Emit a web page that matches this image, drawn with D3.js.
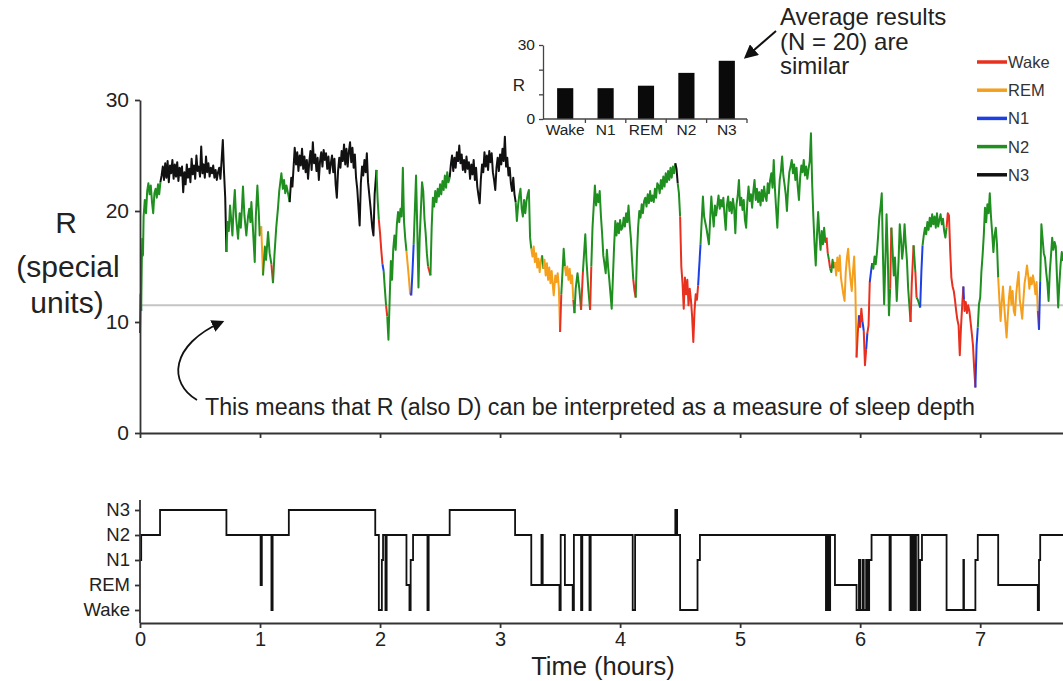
<!DOCTYPE html>
<html>
<head>
<meta charset="utf-8">
<script src="https://cdn.jsdelivr.net/npm/d3@7"></script>
<style>
  body { margin: 0; background: #fff; }
  svg { font-family: Arial, "Liberation Sans", sans-serif; }
</style>
</head>
<body>
<svg id="grafico" width="1063" height="681"></svg>
<script>
// estágios do hipnograma: [hora de início, estágio]
let hipnograma = [
  [0,'N1'],[0.01,'N2'],[0.167,'N3'],[0.72,'N2'],[1.005,'REM'],[1.015,'N2'],[1.095,'Wake'],[1.105,'N2'],
  [1.24,'N3'],[1.96,'N2'],[1.99,'Wake'],[2.015,'N1'],[2.025,'N2'],[2.045,'Wake'],[2.055,'N2'],[2.22,'REM'],
  [2.245,'Wake'],[2.255,'N1'],[2.275,'N2'],[2.395,'Wake'],[2.405,'N2'],[2.58,'N3'],[3.125,'N2'],[3.26,'REM'],
  [3.345,'N2'],[3.355,'REM'],[3.495,'Wake'],[3.505,'N2'],[3.54,'REM'],[3.605,'Wake'],[3.615,'N2'],[3.675,'Wake'],
  [3.685,'N2'],[3.745,'Wake'],[3.755,'N2'],[4.105,'Wake'],[4.125,'N2'],[4.46,'N3'],[4.475,'N2'],[4.5,'Wake'],
  [4.645,'N1'],[4.665,'N2'],[5.715,'Wake'],[5.73,'N2'],[5.74,'Wake'],[5.75,'N2'],[5.79,'REM'],[5.97,'Wake'],
  [5.99,'N1'],[6.0,'Wake'],[6.02,'N1'],[6.03,'Wake'],[6.05,'N1'],[6.06,'Wake'],[6.075,'N1'],[6.095,'N2'],
  [6.245,'Wake'],[6.255,'N2'],[6.42,'Wake'],[6.435,'N2'],[6.45,'Wake'],[6.465,'N2'],[6.485,'Wake'],[6.5,'N1'],
  [6.515,'N2'],[6.72,'Wake'],[6.86,'N1'],[6.865,'Wake'],[6.96,'N1'],[6.98,'N2'],[7.15,'REM'],[7.48,'Wake'],
  [7.49,'N1'],[7.5,'N2']
];
let fimHipnograma = 7.7;

// série R: [hora, valor]
let serieR = [
  [0,9.0],[0.005,12.5],[0.01,11.0],[0.015,15.5],[0.02,17.5],[0.025,16.0],[0.03,19.5],[0.04,21.0],[0.05,19.8],[0.06,21.8],
  [0.07,22.5],[0.08,21.5],[0.09,22.3],[0.1,20.8],[0.11,19.8],[0.12,21.6],[0.13,22.0],[0.14,21.2],[0.15,22.4],[0.16,21.5],[0.17,22.6],
  [0.18,23.2],[0.19,24.0],[0.2,22.8],[0.21,24.3],[0.22,23.0],[0.23,24.5],[0.24,22.6],[0.25,24.1],[0.26,23.4],[0.27,24.6],
  [0.28,22.9],[0.29,24.2],[0.3,23.1],[0.31,24.4],[0.32,22.7],[0.33,23.9],[0.34,23.2],[0.35,24.0],[0.36,21.7],[0.37,23.5],
  [0.38,22.4],[0.39,24.2],[0.4,23.0],[0.41,23.8],[0.42,22.6],[0.43,24.7],[0.44,23.3],[0.45,24.1],[0.46,22.9],[0.47,25.0],
  [0.48,23.6],[0.49,24.0],[0.5,23.1],[0.51,25.8],[0.52,23.4],[0.53,24.2],[0.54,23.0],[0.55,24.9],[0.56,23.5],[0.57,24.3],
  [0.58,23.1],[0.59,23.9],[0.6,23.4],[0.61,24.1],[0.62,23.0],[0.63,23.7],[0.64,22.8],[0.65,23.5],[0.66,23.9],[0.67,22.9],
  [0.68,24.6],[0.69,26.4],[0.7,23.5],[0.71,21.2],
  [0.72,16.3],[0.73,19.0],[0.74,18.2],[0.75,20.5],[0.76,19.2],[0.77,17.8],[0.78,20.3],[0.79,21.9],[0.8,19.5],[0.81,18.3],
  [0.817,17.5],[0.83,19.8],[0.84,18.5],[0.85,20.4],[0.858,22.2],[0.87,19.6],[0.886,17.8],[0.9,19.5],[0.91,20.2],[0.92,19.0],
  [0.928,20.8],[0.94,18.6],[0.956,15.4],[0.965,19.5],[0.978,22.3],[0.99,19.8],[0.997,17.8],[1.01,18.6],[1.025,14.2],[1.04,16.8],
  [1.05,15.6],[1.067,18.1],[1.08,16.2],[1.095,15.2],[1.108,13.5],[1.12,16.0],[1.135,18.5],[1.15,20.3],[1.16,21.8],[1.178,23.4],
  [1.19,22.0],[1.2,22.8],[1.21,21.6],[1.22,22.3],[1.235,21.5],
  [1.247,20.8],[1.26,23.0],[1.27,22.2],[1.289,25.7],[1.3,24.2],[1.31,25.3],[1.32,23.6],[1.33,25.0],[1.34,24.1],[1.35,25.6],
  [1.36,23.8],[1.37,24.9],[1.38,23.5],[1.39,24.6],[1.4,22.9],[1.41,24.4],[1.42,25.4],[1.43,23.7],[1.44,26.2],[1.45,24.3],
  [1.46,25.1],[1.47,23.6],[1.48,24.8],[1.49,22.8],[1.5,24.5],[1.51,25.3],[1.52,24.0],[1.53,25.5],[1.54,24.6],[1.55,25.2],
  [1.56,23.8],[1.57,24.9],[1.58,23.4],[1.59,24.3],[1.6,25.0],[1.61,23.5],[1.62,24.7],[1.63,22.4],[1.64,21.2],[1.65,23.6],
  [1.66,24.8],[1.67,23.9],[1.68,25.4],[1.69,24.5],[1.7,26.0],[1.71,24.2],[1.72,25.6],[1.73,24.0],[1.74,25.3],[1.75,26.2],
  [1.76,24.4],[1.77,25.7],[1.78,23.9],[1.79,25.1],[1.8,23.0],[1.81,22.0],[1.83,18.7],[1.84,22.5],[1.85,24.0],[1.86,23.2],
  [1.87,24.6],[1.88,23.5],[1.89,25.2],[1.9,22.6],[1.91,21.5],[1.92,20.4],[1.935,18.5],[1.945,17.8],[1.955,21.5],
  [1.97,23.7],[1.98,21.0],[1.99,19.2],[2.0,18.0],[2.01,16.5],[2.02,15.2],[2.03,14.6],[2.04,13.0],[2.05,11.5],[2.06,10.5],
  [2.07,8.4],[2.08,12.0],[2.09,15.5],[2.1,13.8],[2.11,16.6],[2.12,17.8],[2.13,16.5],[2.14,18.8],[2.15,19.9],[2.16,19.0],
  [2.17,20.2],[2.18,19.5],[2.19,23.9],[2.2,19.0],[2.21,17.5],[2.22,16.4],[2.23,15.2],[2.24,14.0],[2.25,12.6],[2.26,12.4],
  [2.27,14.5],[2.28,17.0],[2.3,23.2],[2.31,18.5],[2.32,13.1],[2.33,17.5],[2.35,22.6],[2.36,21.8],[2.37,19.3],[2.38,18.0],
  [2.39,16.2],[2.4,15.0],[2.42,14.2],[2.43,18.5],[2.44,21.2],[2.45,20.4],[2.46,21.8],[2.47,20.8],[2.48,22.0],[2.49,21.3],
  [2.5,22.4],[2.51,21.5],[2.52,22.7],[2.53,21.9],[2.54,23.2],[2.55,22.1],[2.56,23.5],[2.57,22.6],
  [2.58,23.0],[2.59,24.2],[2.6,25.0],[2.61,23.6],[2.62,24.8],[2.63,23.9],[2.64,25.3],[2.65,24.5],[2.66,25.9],[2.67,24.3],
  [2.68,25.1],[2.69,23.7],[2.7,24.6],[2.71,23.5],[2.72,24.9],[2.73,23.8],[2.74,24.4],[2.75,22.9],[2.76,24.2],[2.77,23.3],
  [2.78,24.6],[2.79,22.8],[2.8,23.9],[2.81,22.2],[2.82,21.4],[2.83,20.7],[2.84,22.9],[2.85,24.2],[2.86,23.5],[2.87,25.3],
  [2.88,24.0],[2.89,25.0],[2.9,23.7],[2.91,25.4],[2.92,24.4],[2.93,25.2],[2.94,23.5],[2.95,22.8],[2.96,21.9],[2.97,23.9],
  [2.98,24.8],[2.99,23.6],[3.0,25.1],[3.01,24.2],[3.02,25.6],[3.03,24.5],[3.04,26.7],[3.05,24.0],[3.06,24.8],[3.07,23.2],
  [3.08,23.9],[3.09,22.5],[3.1,21.8],[3.11,23.0],[3.12,21.5],
  [3.13,20.8],[3.14,19.1],[3.15,20.5],[3.16,21.4],[3.17,22.0],[3.18,20.2],[3.19,19.5],[3.2,21.0],[3.21,19.8],[3.22,20.9],
  [3.23,21.5],[3.24,21.9],[3.25,17.6],
  [3.26,16.6],[3.27,15.9],[3.28,16.8],[3.29,15.4],[3.3,16.2],[3.31,14.9],[3.32,15.7],[3.33,14.5],[3.34,15.5],[3.35,16.0],
  [3.36,14.8],[3.37,15.6],[3.38,14.2],[3.39,15.3],[3.4,13.8],[3.41,14.9],[3.42,13.5],[3.43,14.6],[3.44,13.2],[3.447,12.4],
  [3.46,14.2],[3.47,13.6],[3.48,14.4],[3.49,13.0],[3.5,9.1],[3.51,12.5],[3.52,14.5],[3.53,16.6],[3.54,15.0],[3.55,14.2],
  [3.56,15.0],[3.57,13.8],[3.58,14.8],[3.59,13.5],[3.6,14.2],[3.61,12.0],[3.62,10.8],[3.63,13.0],[3.645,14.4],[3.66,13.0],
  [3.675,11.1],[3.69,14.5],[3.71,17.9],[3.72,15.5],[3.735,13.0],[3.75,11.1],[3.76,15.0],[3.77,18.5],[3.79,22.3],[3.8,20.5],
  [3.81,21.5],[3.82,20.8],[3.83,21.8],[3.84,19.6],[3.85,18.0],[3.86,16.0],[3.88,14.4],[3.89,16.5],[3.9,15.0],[3.91,13.8],
  [3.93,11.2],[3.94,14.0],[3.95,16.8],[3.96,19.1],[3.97,17.8],[3.98,18.9],[3.99,18.0],[4.0,19.2],[4.01,18.3],[4.02,18.5],
  [4.03,19.4],[4.04,18.6],[4.05,19.8],[4.06,19.0],[4.07,20.5],[4.08,18.8],[4.09,17.5],[4.1,15.5],[4.11,13.8],[4.12,12.8],
  [4.13,12.2],[4.14,16.0],[4.15,18.5],[4.16,20.0],[4.17,19.4],[4.18,20.6],[4.19,19.8],[4.2,20.9],[4.21,21.2],[4.22,20.4],
  [4.23,21.5],[4.24,20.7],[4.25,21.8],[4.26,20.9],[4.27,21.4],[4.28,20.8],[4.29,22.0],[4.3,21.2],[4.31,22.5],[4.32,22.3],
  [4.33,21.6],[4.34,22.8],[4.35,22.0],[4.36,23.1],[4.37,22.2],[4.38,23.4],[4.39,22.6],[4.4,23.6],[4.41,22.8],[4.42,23.9],
  [4.43,23.0],[4.44,24.0],[4.45,23.4],[4.46,24.3],[4.47,23.8],[4.48,22.5],[4.49,21.6],
  [4.5,19.5],[4.51,15.0],[4.52,13.5],[4.53,11.2],[4.54,14.0],[4.55,12.5],[4.56,13.8],[4.57,11.5],[4.58,13.0],[4.59,12.0],
  [4.6,10.5],[4.61,8.2],[4.62,11.0],[4.63,12.5],[4.64,12.0],[4.65,13.3],
  [4.67,17.0],[4.69,21.3],[4.7,19.5],[4.72,18.4],[4.74,17.0],[4.75,19.2],[4.76,21.3],[4.77,19.8],[4.78,18.6],[4.79,20.5],
  [4.8,19.6],[4.82,21.4],[4.83,20.2],[4.84,21.0],[4.85,20.4],[4.86,21.2],[4.87,19.6],[4.88,18.3],[4.89,20.5],[4.9,21.3],
  [4.91,20.0],[4.92,20.8],[4.93,19.8],[4.94,21.1],[4.95,20.3],[4.96,18.0],[4.97,20.6],[4.98,21.4],[4.99,22.8],[5.0,20.5],
  [5.01,21.2],[5.02,20.1],[5.03,21.0],[5.04,19.2],[5.05,18.5],[5.06,20.8],[5.07,22.2],[5.08,20.9],[5.09,21.5],[5.1,20.3],
  [5.11,21.8],[5.12,22.8],[5.13,21.0],[5.14,22.0],[5.15,20.8],[5.16,21.7],[5.17,20.5],[5.18,21.9],[5.19,20.9],[5.2,22.2],
  [5.21,21.3],[5.22,20.9],[5.23,22.5],[5.24,21.6],[5.25,22.8],[5.26,23.4],[5.27,22.1],[5.28,24.6],[5.29,22.0],[5.3,20.2],
  [5.31,18.5],[5.32,21.0],[5.33,22.8],[5.34,23.6],[5.35,24.9],[5.36,23.2],[5.37,22.4],[5.38,21.5],[5.39,20.0],[5.4,22.1],
  [5.41,23.5],[5.42,24.0],[5.43,24.6],[5.44,23.4],[5.45,24.2],[5.46,22.8],[5.47,23.9],[5.48,22.2],[5.49,21.0],[5.5,23.0],
  [5.51,24.1],[5.52,23.5],[5.53,24.6],[5.54,23.2],[5.55,24.0],[5.56,22.9],[5.57,23.8],[5.58,24.5],[5.59,27.0],[5.6,22.5],
  [5.61,19.5],[5.62,17.0],[5.63,15.1],[5.64,17.8],[5.65,19.9],[5.66,18.0],[5.67,16.5],[5.68,18.2],[5.69,17.0],[5.7,18.5],
  [5.71,17.2],[5.72,17.6],[5.73,16.2],[5.74,15.6],[5.75,14.8],[5.76,14.5],[5.77,15.6],[5.78,14.9],
  [5.79,15.4],[5.8,14.2],[5.81,15.8],[5.82,14.6],[5.83,16.0],[5.84,14.0],[5.85,13.2],[5.86,12.5],[5.87,11.9],[5.88,14.5],
  [5.89,15.8],[5.9,16.6],[5.91,15.0],[5.92,13.8],[5.93,12.8],[5.94,14.5],[5.95,15.9],[5.96,13.0],
  [5.97,6.8],[5.98,9.0],[5.99,10.6],[6.0,9.5],[6.01,11.2],[6.02,10.0],[6.03,9.2],[6.04,6.1],[6.05,7.5],[6.06,9.0],
  [6.07,9.7],[6.08,13.6],[6.09,14.5],[6.1,15.3],[6.11,14.8],[6.12,15.9],[6.13,15.2],[6.14,16.3],[6.15,17.8],[6.16,19.5],
  [6.17,20.4],[6.18,21.6],[6.19,16.0],[6.2,11.6],[6.21,15.5],[6.22,19.7],[6.23,16.0],[6.24,10.6],[6.25,13.0],[6.26,18.5],
  [6.27,16.5],[6.28,14.2],[6.29,15.8],[6.305,11.9],[6.32,15.5],[6.33,18.8],[6.34,17.5],[6.35,15.7],[6.36,16.8],[6.37,18.8],
  [6.38,17.0],[6.39,15.5],[6.4,13.0],[6.42,10.0],[6.43,13.5],[6.445,16.9],[6.46,14.5],[6.47,12.2],[6.48,12.0],[6.5,11.3],
  [6.51,14.5],[6.52,16.9],[6.53,17.8],[6.54,18.5],[6.55,17.9],[6.56,19.0],[6.57,18.3],[6.58,19.4],[6.59,18.6],[6.6,19.7],
  [6.61,18.8],[6.62,19.5],[6.63,18.5],[6.64,19.8],[6.65,18.6],[6.66,19.2],[6.67,19.7],[6.68,18.8],[6.69,19.3],[6.7,18.2],
  [6.71,17.6],
  [6.72,18.5],[6.73,19.8],[6.74,19.6],[6.75,16.5],[6.76,14.0],[6.77,13.2],[6.78,12.8],[6.79,12.0],[6.8,11.0],[6.81,10.2],
  [6.82,9.7],[6.83,7.0],[6.84,9.5],[6.85,11.5],[6.86,13.2],[6.865,12.0],[6.87,11.0],[6.88,11.8],[6.89,10.8],[6.9,11.5],
  [6.91,11.0],[6.92,10.0],[6.93,9.0],[6.94,7.9],[6.95,5.8],[6.96,4.1],[6.97,7.9],[6.98,9.5],[6.99,11.6],[7.0,12.2],
  [7.01,14.5],[7.02,16.0],[7.03,17.8],[7.04,20.3],[7.05,19.0],[7.06,20.6],[7.07,19.8],[7.08,21.6],[7.09,19.5],[7.1,18.0],
  [7.11,16.3],[7.12,17.8],[7.13,18.5],[7.14,17.0],
  [7.15,14.0],[7.16,12.0],[7.17,10.1],[7.18,11.8],[7.19,13.2],[7.2,11.5],[7.21,10.0],[7.22,8.6],[7.23,10.5],[7.24,12.2],
  [7.25,13.2],[7.26,11.6],[7.27,12.8],[7.28,11.0],[7.29,10.6],[7.3,12.5],[7.31,13.6],[7.32,14.5],[7.33,12.0],[7.34,11.2],
  [7.35,10.3],[7.36,12.0],[7.37,13.5],[7.38,14.2],[7.39,15.1],[7.4,14.2],[7.41,13.0],[7.42,14.0],[7.43,13.4],[7.44,14.2],
  [7.45,13.5],[7.46,12.5],[7.47,13.6],[7.48,11.0],[7.49,9.3],[7.5,13.6],
  [7.51,18.8],[7.52,17.5],[7.53,16.2],[7.54,15.8],[7.55,14.5],[7.56,13.5],[7.57,11.9],[7.58,14.5],[7.59,16.0],[7.6,17.6],
  [7.61,16.5],[7.62,17.2],[7.63,16.8],[7.64,14.0],[7.65,11.3],[7.66,13.5],[7.67,15.2],[7.68,16.3],[7.69,15.5]
];

let limiarR = 11.5;
let ticksR = [0, 10, 20, 30];
let ticksHoras = [0, 1, 2, 3, 4, 5, 6, 7];
let estagiosEixo = ['Wake', 'REM', 'N1', 'N2', 'N3'];
let estagiosLegenda = ['Wake', 'REM', 'N1', 'N2', 'N3'];
let coresEstagio = { Wake: '#e8301f', REM: '#f5a01c', N1: '#1c3fe6', N2: '#1f8f1f', N3: '#111111' };

// gráfico pequeno de médias
let categoriasMedia = ['Wake', 'N1', 'REM', 'N2', 'N3'];
let valoresMedia = [12.5, 12.5, 13.5, 18.7, 23.6];
let ticksMedia = [0, 10, 20, 30];
let rotulosTicksMedia = [0, 30];

let svg = d3.select('#grafico');
let corTexto = '#222';
let fonte = 'Arial, "Liberation Sans", sans-serif';

let fnx = d3.scaleLinear().domain([0, 7.69]).range([140, 1063]);
let fny = d3.scaleLinear().domain([0, 30]).range([433, 100]);
let fnh = d3.scalePoint().domain(estagiosEixo).range([610, 510]);

// limiar cinza
svg.append('line')
  .attr('x1', fnx(0)).attr('x2', fnx(7.69))
  .attr('y1', fny(limiarR)).attr('y2', fny(limiarR))
  .attr('stroke', '#c4c4c4').attr('stroke-width', 2);

// estágio em cada hora
let horasHip = hipnograma.map(d => d[0]);
function estagioEm(t) {
  let i = d3.bisectRight(horasHip, t + 1e-9) - 1;
  return hipnograma[Math.max(0, i)][1];
}

// quebra a série em trechos de mesma cor
let trechos = [];
for (let i = 0; i < serieR.length - 1; i++) {
  let est = estagioEm(serieR[i][0]);
  let ultimo = trechos[trechos.length - 1];
  if (!ultimo || ultimo.est !== est) {
    trechos.push({ est: est, pts: [serieR[i], serieR[i + 1]] });
  } else {
    ultimo.pts.push(serieR[i + 1]);
  }
}

let linhaR = d3.line().x(d => fnx(d[0])).y(d => fny(d[1]));
svg.append('g').selectAll('path')
  .data(trechos)
  .join('path')
  .attr('d', d => linhaR(d.pts))
  .attr('fill', 'none')
  .attr('stroke', d => coresEstagio[d.est])
  .attr('stroke-width', 2)
  .attr('stroke-linejoin', 'round');

// eixos do painel superior
let eixoY = svg.append('g').attr('transform', 'translate(140,0)')
  .call(d3.axisLeft(fny).tickValues(ticksR).tickSize(5).tickPadding(6).tickSizeOuter(0));
let eixoX = svg.append('g').attr('transform', 'translate(0,433)')
  .call(d3.axisBottom(fnx).tickValues(ticksHoras).tickSize(5).tickFormat('').tickSizeOuter(0));
[eixoY, eixoX].forEach(g => {
  g.selectAll('path, line').attr('stroke', '#333').attr('stroke-width', 1.8);
  g.selectAll('text').attr('font-size', 21).attr('fill', corTexto).attr('font-family', fonte);
});

// rótulo do eixo Y
svg.append('text').attr('x', 66).attr('y', 233).attr('text-anchor', 'middle')
  .attr('font-size', 30).attr('fill', corTexto).text('R');
svg.append('text').attr('x', 68).attr('y', 277).attr('text-anchor', 'middle')
  .attr('font-size', 30).attr('fill', corTexto).text('(special');
svg.append('text').attr('x', 67).attr('y', 313).attr('text-anchor', 'middle')
  .attr('font-size', 30).attr('fill', corTexto).text('units)');

// setas
let defs = svg.append('defs');
defs.append('marker').attr('id', 'ponta')
  .attr('viewBox', '0 0 10 10').attr('refX', 8).attr('refY', 5)
  .attr('markerWidth', 7).attr('markerHeight', 7).attr('markerUnits', 'strokeWidth')
  .attr('orient', 'auto')
  .append('path').attr('d', 'M0,0 L10,5 L0,10 Z').attr('fill', '#111');

svg.append('path')
  .attr('d', 'M197,400 C168,383 170,345 222,322')
  .attr('fill', 'none').attr('stroke', '#111').attr('stroke-width', 1.8)
  .attr('marker-end', 'url(#ponta)');

svg.append('text').attr('x', 205).attr('y', 415)
  .attr('font-size', 23).attr('fill', corTexto)
  .attr('textLength', 770).attr('lengthAdjust', 'spacingAndGlyphs')
  .text('This means that R (also D) can be interpreted as a measure of sleep depth');

// gráfico de médias
let fnxm = d3.scaleBand().domain(categoriasMedia).range([545, 747]).paddingInner(0.6).paddingOuter(0.3);
let fnym = d3.scaleLinear().domain([0, 30]).range([119, 45]);

svg.append('g').selectAll('.barra')
  .data(valoresMedia)
  .join('rect')
  .attr('class', 'barra')
  .attr('x', (d, i) => fnxm(categoriasMedia[i]))
  .attr('y', d => fnym(d))
  .attr('width', fnxm.bandwidth())
  .attr('height', d => fnym(0) - fnym(d))
  .attr('fill', '#0a0a0a');

let eixoYm = svg.append('g').attr('transform', 'translate(543,0)')
  .call(d3.axisLeft(fnym).tickValues(ticksMedia).tickSize(4).tickPadding(4).tickSizeOuter(0)
    .tickFormat(d => rotulosTicksMedia.includes(d) ? d : ''));
let eixoXm = svg.append('g').attr('transform', 'translate(0,119)')
  .call(d3.axisBottom(fnxm).tickSize(0).tickPadding(5).tickSizeOuter(0));
eixoXm.select('.domain').attr('d', 'M543,0H747');
eixoXm.selectAll('.divisa')
  .data(categoriasMedia)
  .join('line')
  .attr('class', 'divisa')
  .attr('x1', d => fnxm(d) + fnxm.bandwidth() + fnxm.step() * fnxm.paddingInner() / 2)
  .attr('x2', d => fnxm(d) + fnxm.bandwidth() + fnxm.step() * fnxm.paddingInner() / 2)
  .attr('y1', 0).attr('y2', 4);
[eixoYm, eixoXm].forEach(g => {
  g.selectAll('path, line').attr('stroke', '#444').attr('stroke-width', 1.3);
  g.selectAll('text').attr('font-size', 15.5).attr('fill', corTexto).attr('font-family', fonte);
});
svg.append('text').attr('x', 519).attr('y', 91).attr('text-anchor', 'middle')
  .attr('font-size', 17).attr('fill', corTexto).text('R');

// anotação do gráfico de médias
svg.append('line').attr('x1', 776).attr('y1', 31).attr('x2', 746).attr('y2', 57)
  .attr('stroke', '#111').attr('stroke-width', 2).attr('marker-end', 'url(#ponta)');
['Average results', '(N = 20) are', 'similar'].forEach((t, i) => {
  svg.append('text').attr('x', 780).attr('y', 25 + i * 24.5)
    .attr('font-size', 24).attr('fill', corTexto).text(t);
});

// legenda
let legenda = svg.append('g').selectAll('g')
  .data(estagiosLegenda)
  .join('g')
  .attr('transform', (d, i) => `translate(977, ${62 + i * 28.2})`);
legenda.append('line').attr('x1', 0).attr('x2', 30).attr('y1', 0).attr('y2', 0)
  .attr('stroke', d => coresEstagio[d]).attr('stroke-width', 3.5);
legenda.append('text').attr('x', 31).attr('y', 6)
  .attr('font-size', 16.5).attr('fill', '#333').text(d => d);

// hipnograma
let pontosHip = hipnograma.concat([[fimHipnograma, hipnograma[hipnograma.length - 1][1]]]);
let linhaHip = d3.line().curve(d3.curveStepAfter).x(d => fnx(d[0])).y(d => fnh(d[1]));
svg.append('path')
  .attr('d', linhaHip(pontosHip))
  .attr('fill', 'none').attr('stroke', '#111').attr('stroke-width', 1.8);

let eixoYh = svg.append('g').attr('transform', 'translate(140,0)')
  .call(d3.axisLeft(fnh).tickSize(5).tickPadding(5).tickSizeOuter(0));
eixoYh.select('.domain').attr('d', 'M0,500V623');
let eixoXh = svg.append('g').attr('transform', 'translate(0,623)')
  .call(d3.axisBottom(fnx).tickValues(ticksHoras).tickSize(5).tickPadding(4).tickSizeOuter(0));
[eixoYh, eixoXh].forEach(g => {
  g.selectAll('path, line').attr('stroke', '#333').attr('stroke-width', 1.8);
  g.selectAll('text').attr('fill', corTexto).attr('font-family', fonte);
});
eixoYh.selectAll('text').attr('font-size', 18.5);
eixoXh.selectAll('text').attr('font-size', 20);

svg.append('text').attr('x', 603).attr('y', 675).attr('text-anchor', 'middle')
  .attr('font-size', 25.5).attr('fill', corTexto).text('Time (hours)');
</script>
</body>
</html>
